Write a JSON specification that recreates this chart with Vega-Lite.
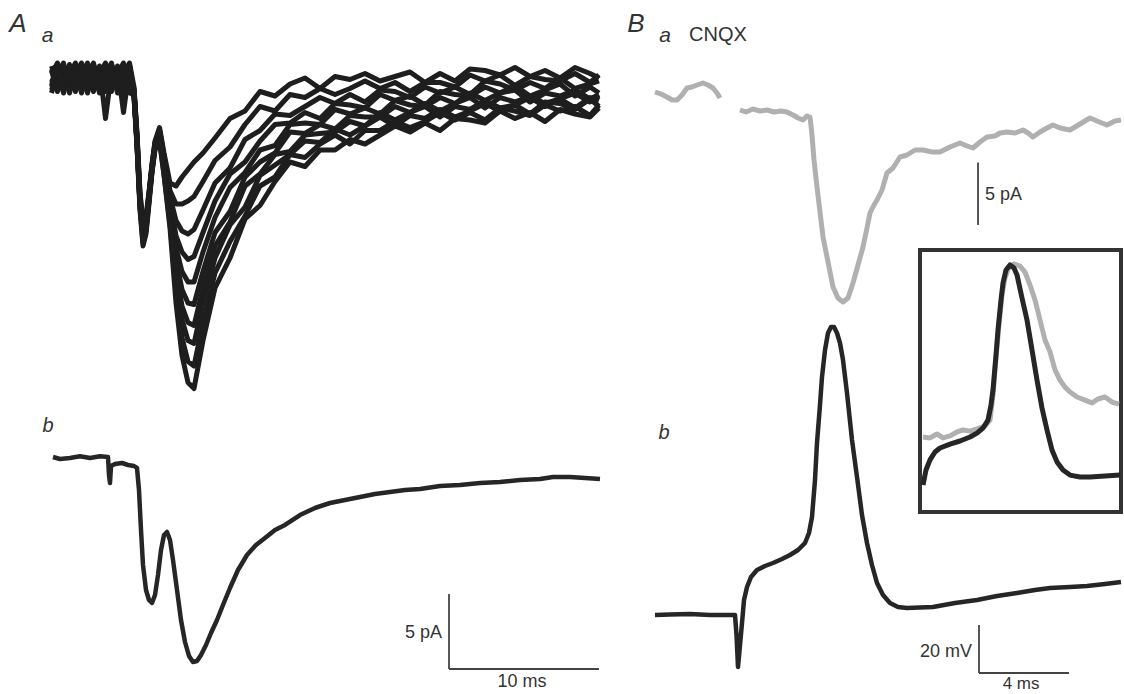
{
  "$schema": "https://vega.github.io/schema/vega-lite/v6.json",
  "width": 1124,
  "height": 694,
  "padding": 0,
  "autosize": {"type": "none"},
  "background": "white",
  "config": {"view": {"stroke": null}, "text": {"font": "Liberation Sans", "color": "#333333"}},
  "layer": [
    {
      "layer": [
        {
          "data": {"values": [
            {"k":1,"t":0.1,"i":0.6},{"k":1,"t":0.5,"i":-0.5},{"k":1,"t":0.9,"i":0.9},{"k":1,"t":1.3,"i":-0.8},{"k":1,"t":1.7,"i":0.3},{"k":1,"t":2.1,"i":1.0},{"k":1,"t":2.5,"i":-0.6},{"k":1,"t":2.9,"i":0.5},{"k":1,"t":3.3,"i":-0.9},{"k":1,"t":3.7,"i":0.8},{"k":1,"t":4.1,"i":-0.3},{"k":1,"t":4.5,"i":0.7},{"k":1,"t":4.9,"i":-1.0},{"k":1,"t":5.3,"i":0.4},
            {"k":1,"t":5.6,"i":-0.8},{"k":1,"t":5.8,"i":-4.0},{"k":1,"t":6.0,"i":-8.0},{"k":1,"t":6.2,"i":-10.0},{"k":1,"t":6.4,"i":-9.5},{"k":1,"t":6.6,"i":-7.8},{"k":1,"t":6.8,"i":-5.8},{"k":1,"t":7.0,"i":-4.2},
            {"k":1,"t":7.3,"i":-3.3},{"k":1,"t":7.6,"i":-5.0},{"k":1,"t":8.0,"i":-7.0},{"k":1,"t":8.4,"i":-7.2},{"k":1,"t":8.8,"i":-6.6},{"k":1,"t":9.2,"i":-6.1},{"k":1,"t":9.6,"i":-5.6},{"k":1,"t":10.2,"i":-5.0},{"k":1,"t":11,"i":-4.0},
            {"k":1,"t":12,"i":-2.7},{"k":1,"t":13,"i":-2.2},{"k":1,"t":14,"i":-0.9},{"k":1,"t":15,"i":-1.2},{"k":1,"t":16,"i":-0.4},{"k":1,"t":17,"i":0.0},{"k":1,"t":18,"i":-0.7},{"k":1,"t":19,"i":0.1},{"k":1,"t":20,"i":-0.1},{"k":1,"t":21,"i":0.3},{"k":1,"t":22,"i":-0.2},{"k":1,"t":23,"i":0.1},{"k":1,"t":24,"i":0.4},{"k":1,"t":25,"i":-0.3},{"k":1,"t":26,"i":0.3},{"k":1,"t":27,"i":-0.2},{"k":1,"t":28,"i":0.6},{"k":1,"t":29,"i":0.5},{"k":1,"t":30,"i":0.2},{"k":1,"t":31,"i":0.7},{"k":1,"t":32,"i":0.1},{"k":1,"t":33,"i":0.5},{"k":1,"t":34,"i":0.0},{"k":1,"t":35,"i":0.7},{"k":1,"t":36,"i":0.3},{"k":1,"t":36.6,"i":0.0},

            {"k":2,"t":0.1,"i":-0.8},{"k":2,"t":0.5,"i":0.3},{"k":2,"t":0.9,"i":1.0},{"k":2,"t":1.3,"i":-0.6},{"k":2,"t":1.7,"i":0.5},{"k":2,"t":2.1,"i":-0.9},{"k":2,"t":2.5,"i":0.8},{"k":2,"t":2.9,"i":-0.3},{"k":2,"t":3.3,"i":0.7},{"k":2,"t":3.7,"i":-2.7},{"k":2,"t":4.1,"i":0.4},{"k":2,"t":4.5,"i":0.6},{"k":2,"t":4.9,"i":-0.5},{"k":2,"t":5.3,"i":0.9},
            {"k":2,"t":5.6,"i":-1.0},{"k":2,"t":5.8,"i":-4.5},{"k":2,"t":6.0,"i":-8.5},{"k":2,"t":6.2,"i":-10.5},{"k":2,"t":6.4,"i":-9.8},{"k":2,"t":6.6,"i":-8.0},{"k":2,"t":6.8,"i":-6.0},{"k":2,"t":7.0,"i":-4.4},
            {"k":2,"t":7.3,"i":-3.4},{"k":2,"t":7.6,"i":-5.2},{"k":2,"t":8.0,"i":-7.5},{"k":2,"t":8.4,"i":-8.4},{"k":2,"t":8.8,"i":-8.4},{"k":2,"t":9.2,"i":-8.2},{"k":2,"t":9.6,"i":-7.9},{"k":2,"t":10.2,"i":-6.9},{"k":2,"t":11,"i":-5.5},
            {"k":2,"t":12,"i":-4.6},{"k":2,"t":13,"i":-3.1},{"k":2,"t":14,"i":-1.9},{"k":2,"t":15,"i":-2.2},{"k":2,"t":16,"i":-1.1},{"k":2,"t":17,"i":-1.3},{"k":2,"t":18,"i":-0.7},{"k":2,"t":19,"i":-1.1},{"k":2,"t":20,"i":-0.7},{"k":2,"t":21,"i":-0.2},{"k":2,"t":22,"i":-0.7},{"k":2,"t":23,"i":-0.3},{"k":2,"t":24,"i":-0.9},{"k":2,"t":25,"i":-0.3},{"k":2,"t":26,"i":-0.3},{"k":2,"t":27,"i":-0.6},{"k":2,"t":28,"i":0.2},{"k":2,"t":29,"i":-0.2},{"k":2,"t":30,"i":0.2},{"k":2,"t":31,"i":-0.5},{"k":2,"t":32,"i":0.1},{"k":2,"t":33,"i":-0.1},{"k":2,"t":34,"i":-0.2},{"k":2,"t":35,"i":0.3},{"k":2,"t":36,"i":-0.3},{"k":2,"t":36.6,"i":0.2},

            {"k":3,"t":0.1,"i":-0.6},{"k":3,"t":0.5,"i":0.5},{"k":3,"t":0.9,"i":-0.9},{"k":3,"t":1.3,"i":0.8},{"k":3,"t":1.7,"i":-0.3},{"k":3,"t":2.1,"i":0.7},{"k":3,"t":2.5,"i":-1.0},{"k":3,"t":2.9,"i":0.4},{"k":3,"t":3.3,"i":0.6},{"k":3,"t":3.7,"i":-0.5},{"k":3,"t":4.1,"i":0.9},{"k":3,"t":4.5,"i":-0.8},{"k":3,"t":4.9,"i":0.3},{"k":3,"t":5.3,"i":1.0},
            {"k":3,"t":5.6,"i":-0.6},{"k":3,"t":5.8,"i":-3.8},{"k":3,"t":6.0,"i":-7.8},{"k":3,"t":6.2,"i":-9.6},{"k":3,"t":6.4,"i":-9.2},{"k":3,"t":6.6,"i":-7.6},{"k":3,"t":6.8,"i":-5.7},{"k":3,"t":7.0,"i":-4.3},
            {"k":3,"t":7.3,"i":-3.6},{"k":3,"t":7.6,"i":-5.5},{"k":3,"t":8.0,"i":-7.9},{"k":3,"t":8.4,"i":-9.5},{"k":3,"t":8.8,"i":-10.2},{"k":3,"t":9.2,"i":-10.4},{"k":3,"t":9.6,"i":-10.1},{"k":3,"t":10.2,"i":-8.8},{"k":3,"t":11,"i":-7.0},
            {"k":3,"t":12,"i":-6.0},{"k":3,"t":13,"i":-4.1},{"k":3,"t":14,"i":-3.5},{"k":3,"t":15,"i":-2.4},{"k":3,"t":16,"i":-2.5},{"k":3,"t":17,"i":-1.9},{"k":3,"t":18,"i":-1.3},{"k":3,"t":19,"i":-1.7},{"k":3,"t":20,"i":-1.1},{"k":3,"t":21,"i":-1.6},{"k":3,"t":22,"i":-0.8},{"k":3,"t":23,"i":-0.9},{"k":3,"t":24,"i":-1.3},{"k":3,"t":25,"i":-0.6},{"k":3,"t":26,"i":-1.0},{"k":3,"t":27,"i":-0.6},{"k":3,"t":28,"i":-1.1},{"k":3,"t":29,"i":-0.2},{"k":3,"t":30,"i":-0.4},{"k":3,"t":31,"i":-0.8},{"k":3,"t":32,"i":-0.3},{"k":3,"t":33,"i":-0.7},{"k":3,"t":34,"i":0.0},{"k":3,"t":35,"i":-0.7},{"k":3,"t":36,"i":-0.4},{"k":3,"t":36.6,"i":-0.2},

            {"k":4,"t":0.1,"i":0.8},{"k":4,"t":0.5,"i":-0.3},{"k":4,"t":0.9,"i":0.7},{"k":4,"t":1.3,"i":-1.0},{"k":4,"t":1.7,"i":0.4},{"k":4,"t":2.1,"i":0.6},{"k":4,"t":2.5,"i":-0.5},{"k":4,"t":2.9,"i":0.9},{"k":4,"t":3.3,"i":-0.8},{"k":4,"t":3.7,"i":0.3},{"k":4,"t":4.1,"i":1.0},{"k":4,"t":4.5,"i":-0.6},{"k":4,"t":4.9,"i":0.5},{"k":4,"t":5.3,"i":-0.9},
            {"k":4,"t":5.6,"i":-1.2},{"k":4,"t":5.8,"i":-4.2},{"k":4,"t":6.0,"i":-8.6},{"k":4,"t":6.2,"i":-11.0},{"k":4,"t":6.4,"i":-10.2},{"k":4,"t":6.6,"i":-8.2},{"k":4,"t":6.8,"i":-6.2},{"k":4,"t":7.0,"i":-4.6},
            {"k":4,"t":7.3,"i":-3.7},{"k":4,"t":7.6,"i":-5.6},{"k":4,"t":8.0,"i":-8.3},{"k":4,"t":8.4,"i":-10.5},{"k":4,"t":8.8,"i":-11.6},{"k":4,"t":9.2,"i":-12.1},{"k":4,"t":9.6,"i":-11.9},{"k":4,"t":10.2,"i":-10.3},{"k":4,"t":11,"i":-8.2},
            {"k":4,"t":12,"i":-6.4},{"k":4,"t":13,"i":-5.6},{"k":4,"t":14,"i":-4.2},{"k":4,"t":15,"i":-3.1},{"k":4,"t":16,"i":-3.0},{"k":4,"t":17,"i":-2.3},{"k":4,"t":18,"i":-2.7},{"k":4,"t":19,"i":-1.7},{"k":4,"t":20,"i":-1.8},{"k":4,"t":21,"i":-2.0},{"k":4,"t":22,"i":-1.1},{"k":4,"t":23,"i":-1.5},{"k":4,"t":24,"i":-1.2},{"k":4,"t":25,"i":-1.8},{"k":4,"t":26,"i":-0.9},{"k":4,"t":27,"i":-1.1},{"k":4,"t":28,"i":-1.2},{"k":4,"t":29,"i":-0.6},{"k":4,"t":30,"i":-1.0},{"k":4,"t":31,"i":-0.5},{"k":4,"t":32,"i":-1.2},{"k":4,"t":33,"i":-0.8},{"k":4,"t":34,"i":-0.4},{"k":4,"t":35,"i":-1.2},{"k":4,"t":36,"i":-0.6},{"k":4,"t":36.6,"i":-1.0},

            {"k":5,"t":0.1,"i":-1.0},{"k":5,"t":0.5,"i":0.4},{"k":5,"t":0.9,"i":0.6},{"k":5,"t":1.3,"i":-0.5},{"k":5,"t":1.7,"i":0.9},{"k":5,"t":2.1,"i":-0.8},{"k":5,"t":2.5,"i":0.3},{"k":5,"t":2.9,"i":1.0},{"k":5,"t":3.3,"i":-0.6},{"k":5,"t":3.7,"i":0.5},{"k":5,"t":4.1,"i":-0.9},{"k":5,"t":4.5,"i":0.8},{"k":5,"t":4.9,"i":-2.3},{"k":5,"t":5.3,"i":0.7},
            {"k":5,"t":5.6,"i":-0.9},{"k":5,"t":5.8,"i":-4.0},{"k":5,"t":6.0,"i":-8.2},{"k":5,"t":6.2,"i":-10.2},{"k":5,"t":6.4,"i":-9.7},{"k":5,"t":6.6,"i":-7.9},{"k":5,"t":6.8,"i":-6.0},{"k":5,"t":7.0,"i":-4.6},
            {"k":5,"t":7.3,"i":-3.8},{"k":5,"t":7.6,"i":-5.8},{"k":5,"t":8.0,"i":-8.6},{"k":5,"t":8.4,"i":-11.3},{"k":5,"t":8.8,"i":-12.9},{"k":5,"t":9.2,"i":-13.6},{"k":5,"t":9.6,"i":-13.6},{"k":5,"t":10.2,"i":-11.6},{"k":5,"t":11,"i":-9.3},
            {"k":5,"t":12,"i":-7.3},{"k":5,"t":13,"i":-6.3},{"k":5,"t":14,"i":-4.8},{"k":5,"t":15,"i":-4.5},{"k":5,"t":16,"i":-3.1},{"k":5,"t":17,"i":-3.0},{"k":5,"t":18,"i":-3.1},{"k":5,"t":19,"i":-2.1},{"k":5,"t":20,"i":-2.4},{"k":5,"t":21,"i":-2.0},{"k":5,"t":22,"i":-2.4},{"k":5,"t":23,"i":-1.5},{"k":5,"t":24,"i":-1.8},{"k":5,"t":25,"i":-1.9},{"k":5,"t":26,"i":-1.3},{"k":5,"t":27,"i":-1.7},{"k":5,"t":28,"i":-1.0},{"k":5,"t":29,"i":-1.5},{"k":5,"t":30,"i":-1.0},{"k":5,"t":31,"i":-0.8},{"k":5,"t":32,"i":-1.6},{"k":5,"t":33,"i":-1.0},{"k":5,"t":34,"i":-1.2},{"k":5,"t":35,"i":-0.8},{"k":5,"t":36,"i":-1.4},{"k":5,"t":36.6,"i":-1.1},

            {"k":6,"t":0.1,"i":-0.5},{"k":6,"t":0.5,"i":0.9},{"k":6,"t":0.9,"i":-0.8},{"k":6,"t":1.3,"i":0.3},{"k":6,"t":1.7,"i":1.0},{"k":6,"t":2.1,"i":-0.6},{"k":6,"t":2.5,"i":0.5},{"k":6,"t":2.9,"i":-0.9},{"k":6,"t":3.3,"i":0.8},{"k":6,"t":3.7,"i":-0.3},{"k":6,"t":4.1,"i":0.7},{"k":6,"t":4.5,"i":-1.0},{"k":6,"t":4.9,"i":0.4},{"k":6,"t":5.3,"i":0.6},
            {"k":6,"t":5.6,"i":-1.0},{"k":6,"t":5.8,"i":-4.4},{"k":6,"t":6.0,"i":-8.4},{"k":6,"t":6.2,"i":-10.8},{"k":6,"t":6.4,"i":-10.1},{"k":6,"t":6.6,"i":-8.1},{"k":6,"t":6.8,"i":-6.1},{"k":6,"t":7.0,"i":-4.5},
            {"k":6,"t":7.3,"i":-3.9},{"k":6,"t":7.6,"i":-5.9},{"k":6,"t":8.0,"i":-8.9},{"k":6,"t":8.4,"i":-12.1},{"k":6,"t":8.8,"i":-14.1},{"k":6,"t":9.2,"i":-15.0},{"k":6,"t":9.6,"i":-15.1},{"k":6,"t":10.2,"i":-12.9},{"k":6,"t":11,"i":-10.3},
            {"k":6,"t":12,"i":-8.9},{"k":6,"t":13,"i":-6.6},{"k":6,"t":14,"i":-5.6},{"k":6,"t":15,"i":-5.0},{"k":6,"t":16,"i":-3.6},{"k":6,"t":17,"i":-3.7},{"k":6,"t":18,"i":-3.1},{"k":6,"t":19,"i":-3.4},{"k":6,"t":20,"i":-2.5},{"k":6,"t":21,"i":-2.6},{"k":6,"t":22,"i":-2.6},{"k":6,"t":23,"i":-1.9},{"k":6,"t":24,"i":-2.3},{"k":6,"t":25,"i":-1.7},{"k":6,"t":26,"i":-2.2},{"k":6,"t":27,"i":-1.7},{"k":6,"t":28,"i":-1.3},{"k":6,"t":29,"i":-2.0},{"k":6,"t":30,"i":-1.3},{"k":6,"t":31,"i":-1.6},{"k":6,"t":32,"i":-1.2},{"k":6,"t":33,"i":-1.7},{"k":6,"t":34,"i":-1.4},{"k":6,"t":35,"i":-1.0},{"k":6,"t":36,"i":-1.6},{"k":6,"t":36.6,"i":-1.2},

            {"k":7,"t":0.1,"i":0.3},{"k":7,"t":0.5,"i":1.0},{"k":7,"t":0.9,"i":-0.6},{"k":7,"t":1.3,"i":0.5},{"k":7,"t":1.7,"i":-0.9},{"k":7,"t":2.1,"i":0.8},{"k":7,"t":2.5,"i":-0.3},{"k":7,"t":2.9,"i":0.7},{"k":7,"t":3.3,"i":-1.0},{"k":7,"t":3.7,"i":0.4},{"k":7,"t":4.1,"i":0.6},{"k":7,"t":4.5,"i":-0.5},{"k":7,"t":4.9,"i":0.9},{"k":7,"t":5.3,"i":-0.8},
            {"k":7,"t":5.6,"i":-0.7},{"k":7,"t":5.8,"i":-3.7},{"k":7,"t":6.0,"i":-7.6},{"k":7,"t":6.2,"i":-9.8},{"k":7,"t":6.4,"i":-9.4},{"k":7,"t":6.6,"i":-7.7},{"k":7,"t":6.8,"i":-5.9},{"k":7,"t":7.0,"i":-4.5},
            {"k":7,"t":7.3,"i":-4.0},{"k":7,"t":7.6,"i":-6.1},{"k":7,"t":8.0,"i":-9.2},{"k":7,"t":8.4,"i":-12.8},{"k":7,"t":8.8,"i":-15.2},{"k":7,"t":9.2,"i":-16.3},{"k":7,"t":9.6,"i":-16.5},{"k":7,"t":10.2,"i":-14.0},{"k":7,"t":11,"i":-11.2},
            {"k":7,"t":12,"i":-9.6},{"k":7,"t":13,"i":-7.2},{"k":7,"t":14,"i":-6.4},{"k":7,"t":15,"i":-5.1},{"k":7,"t":16,"i":-4.9},{"k":7,"t":17,"i":-3.8},{"k":7,"t":18,"i":-3.7},{"k":7,"t":19,"i":-3.6},{"k":7,"t":20,"i":-2.9},{"k":7,"t":21,"i":-3.2},{"k":7,"t":22,"i":-2.3},{"k":7,"t":23,"i":-2.8},{"k":7,"t":24,"i":-2.3},{"k":7,"t":25,"i":-1.9},{"k":7,"t":26,"i":-2.6},{"k":7,"t":27,"i":-1.9},{"k":7,"t":28,"i":-2.1},{"k":7,"t":29,"i":-1.5},{"k":7,"t":30,"i":-2.0},{"k":7,"t":31,"i":-1.8},{"k":7,"t":32,"i":-1.3},{"k":7,"t":33,"i":-1.9},{"k":7,"t":34,"i":-1.4},{"k":7,"t":35,"i":-2.0},{"k":7,"t":36,"i":-1.3},{"k":7,"t":36.6,"i":-1.5},

            {"k":8,"t":0.1,"i":0.5},{"k":8,"t":0.5,"i":-0.9},{"k":8,"t":0.9,"i":0.8},{"k":8,"t":1.3,"i":-0.3},{"k":8,"t":1.7,"i":0.7},{"k":8,"t":2.1,"i":-1.0},{"k":8,"t":2.5,"i":0.4},{"k":8,"t":2.9,"i":0.6},{"k":8,"t":3.3,"i":-0.5},{"k":8,"t":3.7,"i":0.9},{"k":8,"t":4.1,"i":-0.8},{"k":8,"t":4.5,"i":0.3},{"k":8,"t":4.9,"i":1.0},{"k":8,"t":5.3,"i":-0.6},
            {"k":8,"t":5.6,"i":-1.1},{"k":8,"t":5.8,"i":-4.3},{"k":8,"t":6.0,"i":-8.4},{"k":8,"t":6.2,"i":-10.6},{"k":8,"t":6.4,"i":-10.0},{"k":8,"t":6.6,"i":-8.1},{"k":8,"t":6.8,"i":-6.2},{"k":8,"t":7.0,"i":-4.7},
            {"k":8,"t":7.3,"i":-4.0},{"k":8,"t":7.6,"i":-6.2},{"k":8,"t":8.0,"i":-9.4},{"k":8,"t":8.4,"i":-13.4},{"k":8,"t":8.8,"i":-16.1},{"k":8,"t":9.2,"i":-17.5},{"k":8,"t":9.6,"i":-17.7},{"k":8,"t":10.2,"i":-15.0},{"k":8,"t":11,"i":-12.0},
            {"k":8,"t":12,"i":-9.8},{"k":8,"t":13,"i":-8.6},{"k":8,"t":14,"i":-6.5},{"k":8,"t":15,"i":-5.8},{"k":8,"t":16,"i":-5.1},{"k":8,"t":17,"i":-4.2},{"k":8,"t":18,"i":-4.3},{"k":8,"t":19,"i":-3.4},{"k":8,"t":20,"i":-3.8},{"k":8,"t":21,"i":-3.2},{"k":8,"t":22,"i":-2.6},{"k":8,"t":23,"i":-3.2},{"k":8,"t":24,"i":-2.5},{"k":8,"t":25,"i":-2.7},{"k":8,"t":26,"i":-2.1},{"k":8,"t":27,"i":-2.6},{"k":8,"t":28,"i":-2.2},{"k":8,"t":29,"i":-1.7},{"k":8,"t":30,"i":-2.2},{"k":8,"t":31,"i":-1.8},{"k":8,"t":32,"i":-2.4},{"k":8,"t":33,"i":-1.6},{"k":8,"t":34,"i":-1.7},{"k":8,"t":35,"i":-2.1},{"k":8,"t":36,"i":-1.4},{"k":8,"t":36.6,"i":-1.9},

            {"k":9,"t":0.1,"i":-0.3},{"k":9,"t":0.5,"i":0.7},{"k":9,"t":0.9,"i":-1.0},{"k":9,"t":1.3,"i":0.4},{"k":9,"t":1.7,"i":0.6},{"k":9,"t":2.1,"i":-0.5},{"k":9,"t":2.5,"i":0.9},{"k":9,"t":2.9,"i":-0.8},{"k":9,"t":3.3,"i":0.3},{"k":9,"t":3.7,"i":1.0},{"k":9,"t":4.1,"i":-0.6},{"k":9,"t":4.5,"i":0.5},{"k":9,"t":4.9,"i":-0.9},{"k":9,"t":5.3,"i":0.8},
            {"k":9,"t":5.6,"i":-1.3},{"k":9,"t":5.8,"i":-4.6},{"k":9,"t":6.0,"i":-8.8},{"k":9,"t":6.2,"i":-11.2},{"k":9,"t":6.4,"i":-10.4},{"k":9,"t":6.6,"i":-8.4},{"k":9,"t":6.8,"i":-6.3},{"k":9,"t":7.0,"i":-4.8},
            {"k":9,"t":7.3,"i":-4.1},{"k":9,"t":7.6,"i":-6.4},{"k":9,"t":8.0,"i":-9.7},{"k":9,"t":8.4,"i":-14.2},{"k":9,"t":8.8,"i":-17.3},{"k":9,"t":9.2,"i":-18.9},{"k":9,"t":9.6,"i":-19.2},{"k":9,"t":10.2,"i":-16.3},{"k":9,"t":11,"i":-13.0},
            {"k":9,"t":12,"i":-10.9},{"k":9,"t":13,"i":-9.2},{"k":9,"t":14,"i":-7.2},{"k":9,"t":15,"i":-6.6},{"k":9,"t":16,"i":-5.1},{"k":9,"t":17,"i":-5.3},{"k":9,"t":18,"i":-4.4},{"k":9,"t":19,"i":-3.8},{"k":9,"t":20,"i":-4.4},{"k":9,"t":21,"i":-3.5},{"k":9,"t":22,"i":-3.5},{"k":9,"t":23,"i":-2.9},{"k":9,"t":24,"i":-3.3},{"k":9,"t":25,"i":-2.9},{"k":9,"t":26,"i":-2.3},{"k":9,"t":27,"i":-2.8},{"k":9,"t":28,"i":-2.3},{"k":9,"t":29,"i":-2.8},{"k":9,"t":30,"i":-2.0},{"k":9,"t":31,"i":-2.2},{"k":9,"t":32,"i":-2.5},{"k":9,"t":33,"i":-1.8},{"k":9,"t":34,"i":-2.2},{"k":9,"t":35,"i":-1.9},{"k":9,"t":36,"i":-2.5},{"k":9,"t":36.6,"i":-1.8},

            {"k":10,"t":0.1,"i":0.4},{"k":10,"t":0.5,"i":0.6},{"k":10,"t":0.9,"i":-0.5},{"k":10,"t":1.3,"i":0.9},{"k":10,"t":1.7,"i":-0.8},{"k":10,"t":2.1,"i":0.3},{"k":10,"t":2.5,"i":1.0},{"k":10,"t":2.9,"i":-0.6},{"k":10,"t":3.3,"i":0.5},{"k":10,"t":3.7,"i":-0.9},{"k":10,"t":4.1,"i":0.8},{"k":10,"t":4.5,"i":-0.3},{"k":10,"t":4.9,"i":0.7},{"k":10,"t":5.3,"i":-1.0},
            {"k":10,"t":5.6,"i":-0.9},{"k":10,"t":5.8,"i":-4.1},{"k":10,"t":6.0,"i":-8.2},{"k":10,"t":6.2,"i":-10.3},{"k":10,"t":6.4,"i":-9.8},{"k":10,"t":6.6,"i":-7.9},{"k":10,"t":6.8,"i":-6.0},{"k":10,"t":7.0,"i":-4.4},
            {"k":10,"t":7.3,"i":-4.2},{"k":10,"t":7.6,"i":-6.5},{"k":10,"t":8.0,"i":-10.0},{"k":10,"t":8.4,"i":-15.0},{"k":10,"t":8.8,"i":-18.5},{"k":10,"t":9.2,"i":-20.3},{"k":10,"t":9.6,"i":-20.7},{"k":10,"t":10.2,"i":-17.5},{"k":10,"t":11,"i":-14.0},
            {"k":10,"t":12,"i":-12.0},{"k":10,"t":13,"i":-9.4},{"k":10,"t":14,"i":-8.5},{"k":10,"t":15,"i":-6.9},{"k":10,"t":16,"i":-5.6},{"k":10,"t":17,"i":-5.9},{"k":10,"t":18,"i":-4.8},{"k":10,"t":19,"i":-4.8},{"k":10,"t":20,"i":-4.1},{"k":10,"t":21,"i":-4.4},{"k":10,"t":22,"i":-3.8},{"k":10,"t":23,"i":-3.2},{"k":10,"t":24,"i":-3.6},{"k":10,"t":25,"i":-3.0},{"k":10,"t":26,"i":-3.5},{"k":10,"t":27,"i":-2.7},{"k":10,"t":28,"i":-2.8},{"k":10,"t":29,"i":-3.0},{"k":10,"t":30,"i":-2.2},{"k":10,"t":31,"i":-2.7},{"k":10,"t":32,"i":-2.3},{"k":10,"t":33,"i":-2.9},{"k":10,"t":34,"i":-2.1},{"k":10,"t":35,"i":-2.4},{"k":10,"t":36,"i":-2.6},{"k":10,"t":36.6,"i":-2.0}
          ]},
          "mark": {"type": "line", "color": "#1e1e1e", "strokeWidth": 5, "strokeJoin": "round"},
          "encoding": {
            "x": {"field": "t", "type": "quantitative", "scale": {"domain": [-3.3333, 71.6], "nice": false, "zero": false}, "axis": null},
            "y": {"field": "i", "type": "quantitative", "scale": {"domain": [-41.0667, 5.2], "nice": false, "zero": false}, "axis": null},
            "detail": {"field": "k", "type": "nominal"}
          }
        },
        {
          "data": {"values": [{}]},
          "mark": {"type": "text", "text": "A", "fontSize": 26, "fontStyle": "italic", "align": "center", "baseline": "alphabetic"},
          "encoding": {
            "x": {"datum": -2.133, "type": "quantitative", "scale": {"domain": [-3.3333, 71.6], "nice": false, "zero": false}, "axis": null},
            "y": {"datum": 3.067, "type": "quantitative", "scale": {"domain": [-41.0667, 5.2], "nice": false, "zero": false}, "axis": null}
          }
        },
        {
          "data": {"values": [{}]},
          "mark": {"type": "text", "text": "a", "fontSize": 21, "fontStyle": "italic", "align": "center", "baseline": "alphabetic"},
          "encoding": {
            "x": {"datum": -0.167, "type": "quantitative", "scale": {"domain": [-3.3333, 71.6], "nice": false, "zero": false}, "axis": null},
            "y": {"datum": 2.4, "type": "quantitative", "scale": {"domain": [-41.0667, 5.2], "nice": false, "zero": false}, "axis": null}
          }
        }
      ]
    },
    {
      "layer": [
        {
          "data": {"values": [
            {"t":0.2,"i":0},{"t":0.667,"i":-0.133},{"t":1.333,"i":-0.067},{"t":2.0,"i":0.05},{"t":2.667,"i":-0.067},{"t":3.333,"i":0.05},{"t":3.867,"i":0},{"t":3.933,"i":-1.2},{"t":4.0,"i":-1.733},{"t":4.067,"i":-0.6},{"t":4.333,"i":-0.467},{"t":4.8,"i":-0.4},{"t":5.2,"i":-0.533},{"t":5.6,"i":-0.6},{"t":5.8,"i":-0.733},{"t":5.933,"i":-2.2},{"t":6.067,"i":-4.867},{"t":6.2,"i":-7.2},{"t":6.4,"i":-8.867},{"t":6.6,"i":-9.533},{"t":6.8,"i":-9.733},{"t":7.0,"i":-9.2},{"t":7.2,"i":-7.867},{"t":7.4,"i":-6.2},{"t":7.6,"i":-5.2},{"t":7.8,"i":-5.0},{"t":8.0,"i":-5.533},{"t":8.2,"i":-6.867},{"t":8.467,"i":-8.867},{"t":8.733,"i":-10.867},{"t":9.0,"i":-12.333},{"t":9.267,"i":-13.267},{"t":9.533,"i":-13.667},{"t":9.8,"i":-13.6},{"t":10.067,"i":-13.2},{"t":10.4,"i":-12.533},{"t":10.733,"i":-11.733},{"t":11.133,"i":-10.867},{"t":11.533,"i":-9.867},{"t":12.0,"i":-8.733},{"t":12.533,"i":-7.533},{"t":13.133,"i":-6.533},{"t":13.733,"i":-5.867},{"t":14.333,"i":-5.4},{"t":15.0,"i":-4.867},{"t":15.667,"i":-4.533},{"t":16.667,"i":-3.867},{"t":17.667,"i":-3.4},{"t":18.667,"i":-3.067},{"t":19.667,"i":-2.867},{"t":20.667,"i":-2.667},{"t":21.667,"i":-2.467},{"t":22.667,"i":-2.333},{"t":23.667,"i":-2.2},{"t":24.667,"i":-2.133},{"t":26.0,"i":-1.933},{"t":27.333,"i":-1.867},{"t":28.667,"i":-1.733},{"t":30.0,"i":-1.667},{"t":31.333,"i":-1.533},{"t":32.667,"i":-1.467},{"t":33.533,"i":-1.333},{"t":34.667,"i":-1.333},{"t":35.667,"i":-1.4},{"t":36.667,"i":-1.467}
          ]},
          "mark": {"type": "line", "color": "#262626", "strokeWidth": 4.5, "strokeJoin": "round"},
          "encoding": {
            "x": {"field": "t", "type": "quantitative", "scale": {"domain": [-3.3333, 71.6], "nice": false, "zero": false}, "axis": null},
            "y": {"field": "i", "type": "quantitative", "scale": {"domain": [-15.8, 30.4667], "nice": false, "zero": false}, "axis": null}
          }
        },
        {
          "data": {"values": [{}]},
          "mark": {"type": "rule", "color": "#444444", "strokeWidth": 1.8},
          "encoding": {
            "x": {"datum": 26.6, "type": "quantitative", "scale": {"domain": [-3.3333, 71.6], "nice": false, "zero": false}, "axis": null},
            "y": {"datum": -9.133, "type": "quantitative", "scale": {"domain": [-15.8, 30.4667], "nice": false, "zero": false}, "axis": null},
            "y2": {"datum": -14.133}
          }
        },
        {
          "data": {"values": [{}]},
          "mark": {"type": "rule", "color": "#444444", "strokeWidth": 1.8},
          "encoding": {
            "x": {"datum": 26.6, "type": "quantitative", "scale": {"domain": [-3.3333, 71.6], "nice": false, "zero": false}, "axis": null},
            "x2": {"datum": 36.6},
            "y": {"datum": -14.133, "type": "quantitative", "scale": {"domain": [-15.8, 30.4667], "nice": false, "zero": false}, "axis": null}
          }
        },
        {
          "data": {"values": [{}]},
          "mark": {"type": "text", "text": "5 pA", "fontSize": 18, "align": "right", "baseline": "middle"},
          "encoding": {
            "x": {"datum": 26.13, "type": "quantitative", "scale": {"domain": [-3.3333, 71.6], "nice": false, "zero": false}, "axis": null},
            "y": {"datum": -11.73, "type": "quantitative", "scale": {"domain": [-15.8, 30.4667], "nice": false, "zero": false}, "axis": null}
          }
        },
        {
          "data": {"values": [{}]},
          "mark": {"type": "text", "text": "10 ms", "fontSize": 18, "align": "center", "baseline": "middle"},
          "encoding": {
            "x": {"datum": 31.47, "type": "quantitative", "scale": {"domain": [-3.3333, 71.6], "nice": false, "zero": false}, "axis": null},
            "y": {"datum": -15.0, "type": "quantitative", "scale": {"domain": [-15.8, 30.4667], "nice": false, "zero": false}, "axis": null}
          }
        },
        {
          "data": {"values": [{}]},
          "mark": {"type": "text", "text": "b", "fontSize": 20, "fontStyle": "italic", "align": "center", "baseline": "alphabetic"},
          "encoding": {
            "x": {"datum": -0.133, "type": "quantitative", "scale": {"domain": [-3.3333, 71.6], "nice": false, "zero": false}, "axis": null},
            "y": {"datum": 1.667, "type": "quantitative", "scale": {"domain": [-15.8, 30.4667], "nice": false, "zero": false}, "axis": null}
          }
        }
      ]
    },
    {
      "layer": [
        {
          "data": {"values": [
            {"seg":1,"t":0,"i":1.44},{"seg":1,"t":0.267,"i":1.28},{"seg":1,"t":0.533,"i":1.04},{"seg":1,"t":0.756,"i":0.8},{"seg":1,"t":0.978,"i":0.8},{"seg":1,"t":1.2,"i":1.2},{"seg":1,"t":1.422,"i":1.76},{"seg":1,"t":1.644,"i":1.84},{"seg":1,"t":1.867,"i":2.0},{"seg":1,"t":2.133,"i":2.16},{"seg":1,"t":2.356,"i":2.0},{"seg":1,"t":2.578,"i":1.76},{"seg":1,"t":2.756,"i":1.36},{"seg":1,"t":2.889,"i":0.96},
            {"seg":2,"t":3.778,"i":0},{"seg":2,"t":4.044,"i":-0.16},{"seg":2,"t":4.356,"i":0.08},{"seg":2,"t":4.667,"i":-0.08},{"seg":2,"t":4.978,"i":0},{"seg":2,"t":5.289,"i":-0.16},{"seg":2,"t":5.6,"i":-0.08},{"seg":2,"t":5.867,"i":-0.16},{"seg":2,"t":6.133,"i":-0.4},{"seg":2,"t":6.356,"i":-0.64},{"seg":2,"t":6.578,"i":-0.8},{"seg":2,"t":6.756,"i":-0.48},{"seg":2,"t":6.889,"i":-0.56},{"seg":2,"t":6.978,"i":-2.0},{"seg":2,"t":7.067,"i":-4.0},{"seg":2,"t":7.2,"i":-6.16},{"seg":2,"t":7.333,"i":-8.16},{"seg":2,"t":7.467,"i":-10.16},{"seg":2,"t":7.689,"i":-12.16},{"seg":2,"t":7.911,"i":-14.16},{"seg":2,"t":8.133,"i":-15.04},{"seg":2,"t":8.356,"i":-15.36},{"seg":2,"t":8.578,"i":-15.04},{"seg":2,"t":8.8,"i":-13.84},{"seg":2,"t":9.022,"i":-12.4},{"seg":2,"t":9.244,"i":-10.96},{"seg":2,"t":9.422,"i":-9.44},{"seg":2,"t":9.556,"i":-8.24},{"seg":2,"t":9.733,"i":-7.6},{"seg":2,"t":9.867,"i":-7.2},{"seg":2,"t":10.089,"i":-6.4},{"seg":2,"t":10.311,"i":-5.04},{"seg":2,"t":10.578,"i":-4.64},{"seg":2,"t":10.889,"i":-3.76},{"seg":2,"t":11.2,"i":-3.6},{"seg":2,"t":11.556,"i":-3.2},{"seg":2,"t":11.911,"i":-3.2},{"seg":2,"t":12.311,"i":-3.36},{"seg":2,"t":12.667,"i":-3.36},{"seg":2,"t":13.111,"i":-2.96},{"seg":2,"t":13.556,"i":-2.64},{"seg":2,"t":13.867,"i":-2.88},{"seg":2,"t":14.133,"i":-3.04},{"seg":2,"t":14.444,"i":-2.56},{"seg":2,"t":14.756,"i":-2.16},{"seg":2,"t":15.111,"i":-2.08},{"seg":2,"t":15.333,"i":-1.84},{"seg":2,"t":15.644,"i":-1.76},{"seg":2,"t":16.0,"i":-1.84},{"seg":2,"t":16.356,"i":-1.6},{"seg":2,"t":16.578,"i":-1.84},{"seg":2,"t":16.8,"i":-2.16},{"seg":2,"t":17.111,"i":-1.76},{"seg":2,"t":17.422,"i":-1.44},{"seg":2,"t":17.689,"i":-1.2},{"seg":2,"t":18.0,"i":-1.44},{"seg":2,"t":18.444,"i":-1.6},{"seg":2,"t":18.889,"i":-1.12},{"seg":2,"t":19.333,"i":-0.64},{"seg":2,"t":19.644,"i":-0.88},{"seg":2,"t":20.089,"i":-1.2},{"seg":2,"t":20.444,"i":-0.88},{"seg":2,"t":20.711,"i":-0.8}
          ]},
          "mark": {"type": "line", "color": "#b0b0b0", "strokeWidth": 5, "strokeJoin": "round"},
          "encoding": {
            "x": {"field": "t", "type": "quantitative", "scale": {"domain": [-29.1111, 20.8444], "nice": false, "zero": false}, "axis": null},
            "y": {"field": "i", "type": "quantitative", "scale": {"domain": [-46.72, 8.8], "nice": false, "zero": false}, "axis": null},
            "detail": {"field": "seg", "type": "nominal"}
          }
        },
        {
          "data": {"values": [{}]},
          "mark": {"type": "rule", "color": "#444444", "strokeWidth": 1.8},
          "encoding": {
            "x": {"datum": 14.356, "type": "quantitative", "scale": {"domain": [-29.1111, 20.8444], "nice": false, "zero": false}, "axis": null},
            "y": {"datum": -4.2, "type": "quantitative", "scale": {"domain": [-46.72, 8.8], "nice": false, "zero": false}, "axis": null},
            "y2": {"datum": -9.2}
          }
        },
        {
          "data": {"values": [{}]},
          "mark": {"type": "text", "text": "5 pA", "fontSize": 18, "align": "left", "baseline": "middle"},
          "encoding": {
            "x": {"datum": 14.667, "type": "quantitative", "scale": {"domain": [-29.1111, 20.8444], "nice": false, "zero": false}, "axis": null},
            "y": {"datum": -6.8, "type": "quantitative", "scale": {"domain": [-46.72, 8.8], "nice": false, "zero": false}, "axis": null}
          }
        },
        {
          "data": {"values": [{}]},
          "mark": {"type": "text", "text": "B", "fontSize": 26, "fontStyle": "italic", "align": "center", "baseline": "alphabetic"},
          "encoding": {
            "x": {"datum": -0.844, "type": "quantitative", "scale": {"domain": [-29.1111, 20.8444], "nice": false, "zero": false}, "axis": null},
            "y": {"datum": 6.24, "type": "quantitative", "scale": {"domain": [-46.72, 8.8], "nice": false, "zero": false}, "axis": null}
          }
        },
        {
          "data": {"values": [{}]},
          "mark": {"type": "text", "text": "a", "fontSize": 21, "fontStyle": "italic", "align": "center", "baseline": "alphabetic"},
          "encoding": {
            "x": {"datum": 0.444, "type": "quantitative", "scale": {"domain": [-29.1111, 20.8444], "nice": false, "zero": false}, "axis": null},
            "y": {"datum": 5.44, "type": "quantitative", "scale": {"domain": [-46.72, 8.8], "nice": false, "zero": false}, "axis": null}
          }
        },
        {
          "data": {"values": [{}]},
          "mark": {"type": "text", "text": "CNQX", "fontSize": 20, "align": "left", "baseline": "alphabetic"},
          "encoding": {
            "x": {"datum": 1.511, "type": "quantitative", "scale": {"domain": [-29.1111, 20.8444], "nice": false, "zero": false}, "axis": null},
            "y": {"datum": 5.52, "type": "quantitative", "scale": {"domain": [-46.72, 8.8], "nice": false, "zero": false}, "axis": null}
          }
        }
      ]
    },
    {
      "layer": [
        {
          "data": {"values": [
            {"t":0,"v":0},{"t":0.667,"v":0.2},{"t":1.556,"v":0.4},{"t":2.444,"v":0},{"t":3.556,"v":0},{"t":3.622,"v":-8.33},{"t":3.689,"v":-21.67},{"t":3.778,"v":-12.5},{"t":3.867,"v":-3.33},{"t":3.956,"v":6.25},{"t":4.089,"v":11.67},{"t":4.267,"v":15.83},{"t":4.533,"v":18.75},{"t":4.889,"v":20.42},{"t":5.244,"v":21.67},{"t":5.644,"v":23.33},{"t":6.0,"v":25.0},{"t":6.356,"v":27.08},{"t":6.667,"v":30.0},{"t":6.844,"v":34.17},{"t":6.978,"v":40.83},{"t":7.111,"v":56.25},{"t":7.2,"v":71.67},{"t":7.333,"v":87.5},{"t":7.422,"v":99.17},{"t":7.556,"v":110.42},{"t":7.689,"v":117.5},{"t":7.822,"v":120.0},{"t":7.956,"v":120.0},{"t":8.089,"v":117.5},{"t":8.222,"v":113.33},{"t":8.356,"v":106.25},{"t":8.533,"v":92.5},{"t":8.756,"v":72.92},{"t":8.978,"v":57.5},{"t":9.2,"v":41.67},{"t":9.422,"v":30.0},{"t":9.644,"v":20.83},{"t":9.867,"v":13.33},{"t":10.133,"v":8.33},{"t":10.444,"v":5.0},{"t":10.8,"v":3.33},{"t":11.2,"v":2.92},{"t":12.356,"v":3.33},{"t":13.333,"v":5.0},{"t":14.311,"v":6.25},{"t":15.2,"v":7.92},{"t":16.089,"v":9.17},{"t":16.889,"v":10.42},{"t":17.556,"v":11.25},{"t":18.444,"v":11.67},{"t":19.2,"v":12.08},{"t":20.0,"v":12.92},{"t":20.711,"v":13.75}
          ]},
          "mark": {"type": "line", "color": "#262626", "strokeWidth": 4.5, "strokeJoin": "round"},
          "encoding": {
            "x": {"field": "t", "type": "quantitative", "scale": {"domain": [-29.1111, 20.8444], "nice": false, "zero": false}, "axis": null},
            "y": {"field": "v", "type": "quantitative", "scale": {"domain": [-32.9167, 256.25], "nice": false, "zero": false}, "axis": null}
          }
        },
        {
          "data": {"values": [{}]},
          "mark": {"type": "rule", "color": "#444444", "strokeWidth": 1.8},
          "encoding": {
            "x": {"datum": 14.4, "type": "quantitative", "scale": {"domain": [-29.1111, 20.8444], "nice": false, "zero": false}, "axis": null},
            "y": {"datum": -4.17, "type": "quantitative", "scale": {"domain": [-32.9167, 256.25], "nice": false, "zero": false}, "axis": null},
            "y2": {"datum": -24.17}
          }
        },
        {
          "data": {"values": [{}]},
          "mark": {"type": "rule", "color": "#444444", "strokeWidth": 1.8},
          "encoding": {
            "x": {"datum": 14.4, "type": "quantitative", "scale": {"domain": [-29.1111, 20.8444], "nice": false, "zero": false}, "axis": null},
            "x2": {"datum": 18.4},
            "y": {"datum": -24.17, "type": "quantitative", "scale": {"domain": [-32.9167, 256.25], "nice": false, "zero": false}, "axis": null}
          }
        },
        {
          "data": {"values": [{}]},
          "mark": {"type": "text", "text": "20 mV", "fontSize": 18, "align": "right", "baseline": "middle"},
          "encoding": {
            "x": {"datum": 14.09, "type": "quantitative", "scale": {"domain": [-29.1111, 20.8444], "nice": false, "zero": false}, "axis": null},
            "y": {"datum": -15.42, "type": "quantitative", "scale": {"domain": [-32.9167, 256.25], "nice": false, "zero": false}, "axis": null}
          }
        },
        {
          "data": {"values": [{}]},
          "mark": {"type": "text", "text": "4 ms", "fontSize": 17, "align": "center", "baseline": "alphabetic"},
          "encoding": {
            "x": {"datum": 16.27, "type": "quantitative", "scale": {"domain": [-29.1111, 20.8444], "nice": false, "zero": false}, "axis": null},
            "y": {"datum": -30.9, "type": "quantitative", "scale": {"domain": [-32.9167, 256.25], "nice": false, "zero": false}, "axis": null}
          }
        },
        {
          "data": {"values": [{}]},
          "mark": {"type": "text", "text": "b", "fontSize": 20, "fontStyle": "italic", "align": "center", "baseline": "alphabetic"},
          "encoding": {
            "x": {"datum": 0.4, "type": "quantitative", "scale": {"domain": [-29.1111, 20.8444], "nice": false, "zero": false}, "axis": null},
            "y": {"datum": 73.33, "type": "quantitative", "scale": {"domain": [-32.9167, 256.25], "nice": false, "zero": false}, "axis": null}
          }
        }
      ]
    },
    {
      "layer": [
        {
          "data": {"values": [{}]},
          "mark": {"type": "rect", "fill": "white", "fillOpacity": 0, "stroke": "#333333", "strokeWidth": 4},
          "encoding": {
            "x": {"datum": 0, "type": "quantitative", "scale": {"domain": [-46, 10.2], "nice": false, "zero": false}, "axis": null},
            "x2": {"datum": 10.05},
            "y": {"datum": -0.1227, "type": "quantitative", "scale": {"domain": [-0.95, 2.2045], "nice": false, "zero": false}, "axis": null},
            "y2": {"datum": 1.0682}
          }
        },
        {
          "data": {"values": [
            {"t":0.15,"n":0.218},{"t":0.5,"n":0.214},{"t":0.85,"n":0.232},{"t":1.15,"n":0.214},{"t":1.5,"n":0.223},{"t":1.85,"n":0.241},{"t":2.15,"n":0.25},{"t":2.5,"n":0.245},{"t":2.85,"n":0.255},{"t":3.25,"n":0.268},{"t":3.5,"n":0.295},{"t":3.65,"n":0.409},{"t":3.8,"n":0.577},{"t":3.95,"n":0.727},{"t":4.1,"n":0.864},{"t":4.25,"n":0.941},{"t":4.45,"n":0.991},{"t":4.7,"n":1.005},{"t":5.0,"n":0.995},{"t":5.25,"n":0.968},{"t":5.5,"n":0.909},{"t":5.75,"n":0.841},{"t":6.0,"n":0.75},{"t":6.25,"n":0.659},{"t":6.5,"n":0.605},{"t":6.75,"n":0.523},{"t":7.0,"n":0.477},{"t":7.25,"n":0.445},{"t":7.5,"n":0.423},{"t":7.85,"n":0.4},{"t":8.25,"n":0.386},{"t":8.6,"n":0.373},{"t":8.9,"n":0.391},{"t":9.25,"n":0.4},{"t":9.6,"n":0.377},{"t":9.95,"n":0.368}
          ]},
          "mark": {"type": "line", "color": "#b0b0b0", "strokeWidth": 5, "strokeJoin": "round"},
          "encoding": {
            "x": {"field": "t", "type": "quantitative", "scale": {"domain": [-46, 10.2], "nice": false, "zero": false}, "axis": null},
            "y": {"field": "n", "type": "quantitative", "scale": {"domain": [-0.95, 2.2045], "nice": false, "zero": false}, "axis": null}
          }
        },
        {
          "data": {"values": [
            {"t":0.15,"n":0},{"t":0.3,"n":0.068},{"t":0.5,"n":0.114},{"t":0.75,"n":0.15},{"t":1.0,"n":0.168},{"t":1.5,"n":0.186},{"t":2.0,"n":0.2},{"t":2.5,"n":0.218},{"t":2.85,"n":0.236},{"t":3.15,"n":0.259},{"t":3.4,"n":0.295},{"t":3.55,"n":0.364},{"t":3.65,"n":0.432},{"t":3.8,"n":0.591},{"t":3.9,"n":0.705},{"t":4.05,"n":0.841},{"t":4.15,"n":0.918},{"t":4.3,"n":0.977},{"t":4.5,"n":1.0},{"t":4.7,"n":0.986},{"t":4.85,"n":0.955},{"t":5.1,"n":0.85},{"t":5.35,"n":0.75},{"t":5.6,"n":0.614},{"t":5.85,"n":0.477},{"t":6.1,"n":0.35},{"t":6.35,"n":0.25},{"t":6.6,"n":0.159},{"t":6.85,"n":0.105},{"t":7.15,"n":0.068},{"t":7.5,"n":0.045},{"t":8.0,"n":0.036},{"t":8.5,"n":0.036},{"t":9.25,"n":0.041},{"t":10.0,"n":0.045}
          ]},
          "mark": {"type": "line", "color": "#262626", "strokeWidth": 5, "strokeJoin": "round"},
          "encoding": {
            "x": {"field": "t", "type": "quantitative", "scale": {"domain": [-46, 10.2], "nice": false, "zero": false}, "axis": null},
            "y": {"field": "n", "type": "quantitative", "scale": {"domain": [-0.95, 2.2045], "nice": false, "zero": false}, "axis": null}
          }
        }
      ]
    }
  ],
  "resolve": {"scale": {"x": "independent", "y": "independent"}}
}
